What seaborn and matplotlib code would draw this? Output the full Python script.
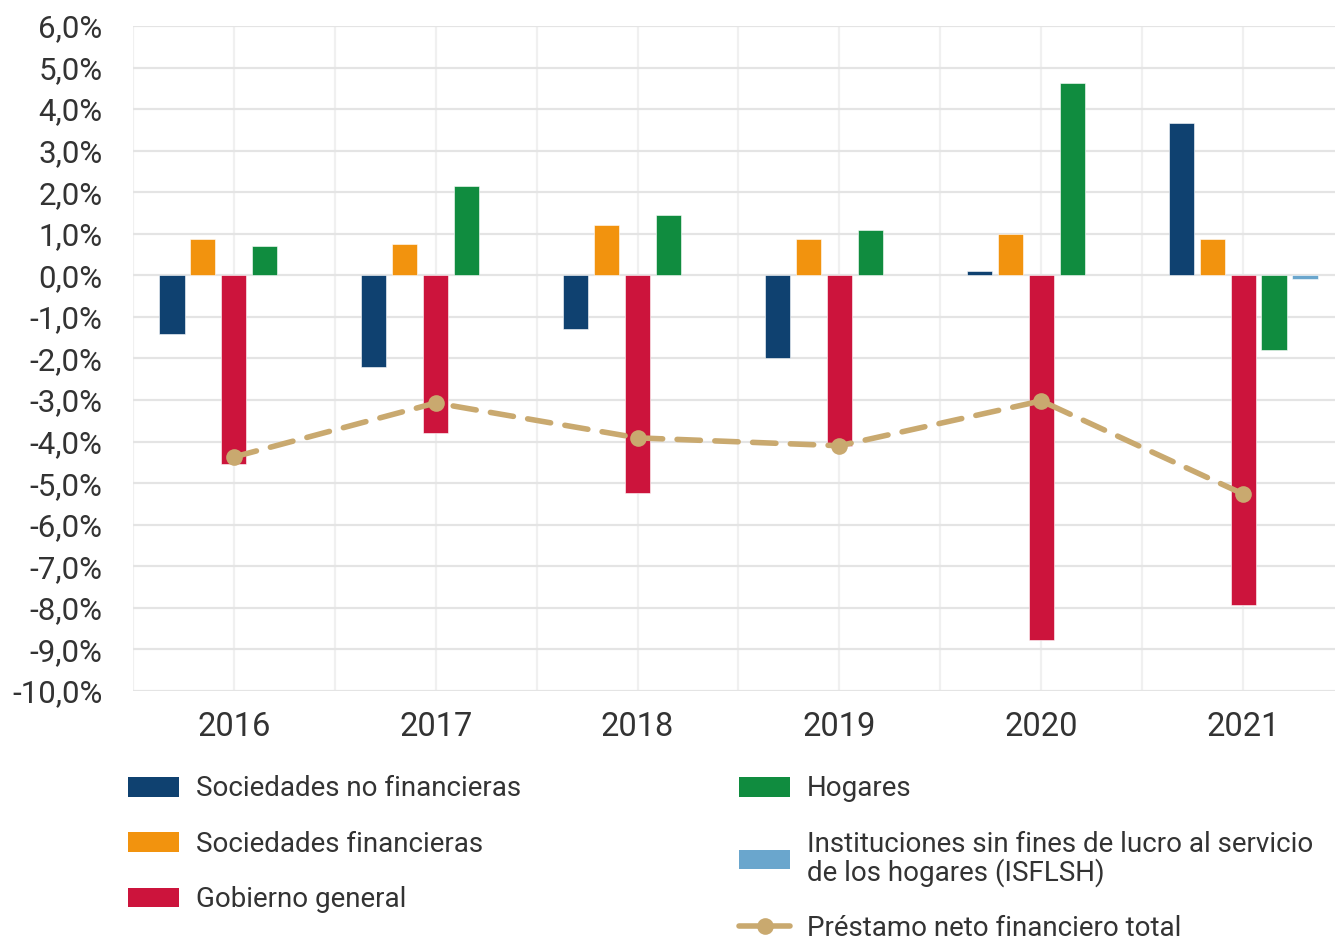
import numpy as np
import pandas as pd
import matplotlib
matplotlib.use("Agg")
import matplotlib.pyplot as plt
import seaborn as sns
from matplotlib.patches import Patch
from matplotlib.lines import Line2D
from matplotlib.ticker import FuncFormatter

# Datos (% del PIB)
anios = ["2016", "2017", "2018", "2019", "2020", "2021"]
sociedades_no_fin = [-1.40, -2.20, -1.30, -2.00, 0.10, 3.67]
sociedades_fin = [0.88, 0.76, 1.20, 0.88, 1.00, 0.88]
gobierno = [-4.55, -3.80, -5.24, -4.10, -8.77, -7.93]
hogares = [0.70, 2.14, 1.44, 1.08, 4.63, -1.80]
isflsh = [np.nan, np.nan, np.nan, np.nan, np.nan, -0.08]
prestamo_total = [-4.37, -3.07, -3.91, -4.10, -3.02, -5.26]

series = {
    "Sociedades no financieras": sociedades_no_fin,
    "Sociedades financieras": sociedades_fin,
    "Gobierno general": gobierno,
    "Hogares": hogares,
    "Instituciones sin fines de lucro al servicio\nde los hogares (ISFLSH)": isflsh,
}
colores = ["#0f4170", "#f2930e", "#cc143c", "#108c3f", "#6aa6cd"]
color_linea = "#c9a96f"

filas = []
for nombre, valores in series.items():
    for a, v in zip(anios, valores):
        filas.append({"anio": a, "sector": nombre, "valor": v})
df = pd.DataFrame(filas)

sns.set_style("white")
plt.rcParams["font.family"] = ["Roboto", "DejaVu Sans"]
texto = "#333333"

fig = plt.figure(figsize=(13.35, 9.41), dpi=100)
ax = fig.add_axes([0.0996, 0.2657, 0.9026, 0.7067])

sns.barplot(data=df, x="anio", y="valor", hue="sector", order=anios,
            hue_order=list(series.keys()), palette=colores,
            width=0.767, gap=0.19, ax=ax, legend=False, saturation=1,
            edgecolor="white", linewidth=0.4)

sns.lineplot(x=np.arange(len(anios)), y=prestamo_total, ax=ax, color=color_linea,
             linewidth=4, linestyle=(0, (4.2, 2.6)), marker="o", markersize=12,
             markeredgewidth=0, zorder=5, dash_capstyle="round")

ax.set_ylim(-10, 6)
ax.set_xlim(-0.495, 5.47)
ax.set_yticks(np.arange(-10, 7, 1))
ax.yaxis.set_major_formatter(FuncFormatter(lambda v, p: f"{v:.1f}%".replace(".", ",")))
ax.set_xticks(np.arange(-0.5, 5.5, 1), minor=True)

ax.set_axisbelow(True)
ax.grid(axis="y", color="#e4e4e4", linewidth=1.6)
ax.grid(axis="x", which="both", color="#f0f0f0", linewidth=1.6)
for s in ax.spines.values():
    s.set_visible(False)

ax.tick_params(axis="y", length=0, pad=22, labelsize=22.5, labelcolor=texto)
ax.tick_params(axis="x", which="both", length=0, pad=14.5, labelsize=23.5, labelcolor=texto)
ax.set_xlabel("")
ax.set_ylabel("")

# Leyenda
h = [Patch(facecolor=c, edgecolor="none") for c in colores]
h.append(Line2D([], [], color=color_linea, linewidth=4, marker="o", markersize=12,
                markeredgewidth=0))
etiquetas = list(series.keys()) + ["Préstamo neto financiero total"]
leg = fig.legend(h, etiquetas, loc="upper left", bbox_to_anchor=(0.0775, 0.2025), ncol=2,
                 frameon=False, fontsize=20, handlelength=1.83, handleheight=0.72,
                 handletextpad=0.6, columnspacing=7.85, labelspacing=1.02,
                 labelcolor=texto)
for t in leg.get_texts():
    t.set_linespacing(1.0)

fig.savefig("out.png", dpi=100)
